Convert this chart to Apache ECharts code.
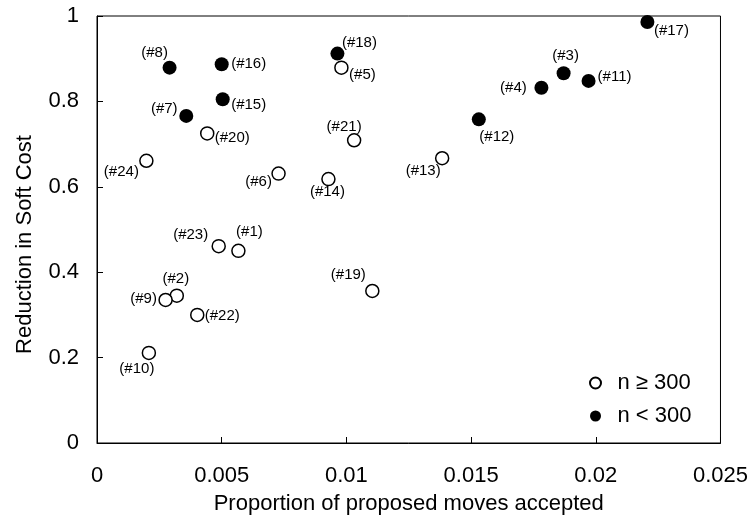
<!DOCTYPE html>
<html>
<head>
<meta charset="utf-8">
<script src="https://cdn.jsdelivr.net/npm/echarts@6/dist/echarts.min.js"></script>
<style>
  html, body { margin: 0; padding: 0; background: #fff; }
  #chart { width: 751px; height: 520px; }
</style>
</head>
<body>
<div id="chart"></div>
<script>
  "use strict";
  // n >= 300 (open circles)
  var openIds = ['#1', '#2', '#5', '#6', '#9', '#10', '#13', '#14', '#19', '#20', '#21', '#22', '#23', '#24'];
  var openX = [0.00567, 0.00320, 0.00980, 0.00728, 0.00275, 0.00208, 0.01384, 0.00928, 0.01104, 0.00442, 0.01031, 0.00402, 0.00488, 0.00198];
  var openY = [0.450, 0.345, 0.879, 0.631, 0.335, 0.211, 0.667, 0.618, 0.356, 0.725, 0.709, 0.300, 0.461, 0.661];
  // n < 300 (filled circles)
  var filledIds = ['#3', '#4', '#7', '#8', '#11', '#12', '#15', '#16', '#17', '#18'];
  var filledX = [0.01871, 0.01782, 0.00358, 0.00291, 0.01971, 0.01531, 0.00504, 0.00500, 0.02207, 0.00964];
  var filledY = [0.866, 0.832, 0.766, 0.879, 0.848, 0.758, 0.805, 0.887, 0.986, 0.912];

  var xTicks = { min: 0, max: 0.025, interval: 0.005 };
  var yTicks = { min: 0, max: 1, interval: 0.2 };

  // where each point's label sits relative to its marker (px)
  var labelOffset = {
    '#1': [11, -19], '#2': [-1, -17], '#3': [2, -17], '#4': [-28, 0], '#5': [21, 7],
    '#6': [-20, 8], '#7': [-22, -7], '#8': [-15, -15], '#9': [-22, -1], '#10': [-12, 16],
    '#11': [26, -4], '#12': [18, 18], '#13': [-19, 13], '#14': [-1, 13], '#15': [26, 6],
    '#16': [27, 0], '#17': [24, 9], '#18': [22, -11], '#19': [-24, -16], '#20': [25, 4],
    '#21': [-10, -13], '#22': [25, 1], '#23': [-28, -11], '#24': [-25, 11]
  };

  var font = '"Liberation Sans", Arial, sans-serif';

  function points(ids, xs, ys) {
    return ids.map(function (id, i) {
      return {
        name: id,
        value: [xs[i], ys[i]],
        label: { offset: labelOffset[id] }
      };
    });
  }

  var pointLabel = {
    show: true,
    position: 'inside',
    formatter: function (p) { return '(' + p.name + ')'; },
    fontFamily: font,
    fontSize: 15,
    color: '#000'
  };

  var option = {
    backgroundColor: '#fff',
    animation: false,
    textStyle: { fontFamily: font },
    grid: {
      left: 97, right: 30, top: 16, bottom: 76,
      show: true, borderColor: '#000', borderWidth: 1
    },
    legend: {
      orient: 'vertical',
      left: 584,
      top: 367,
      itemWidth: 30,
      itemHeight: 11,
      itemGap: 11,
      icon: 'circle',
      textStyle: { fontFamily: font, fontSize: 22, color: '#000', lineHeight: 22, padding: [0, 0, 0, 2] },
      data: ['n \u2265 300', 'n < 300']
    },
    xAxis: {
      type: 'value',
      min: xTicks.min, max: xTicks.max, interval: xTicks.interval,
      name: 'Proportion of proposed moves accepted',
      nameLocation: 'middle',
      nameGap: 50,
      nameTextStyle: { fontFamily: font, fontSize: 22, color: '#000' },
      axisLine: { lineStyle: { color: '#000', width: 1 } },
      axisTick: { inside: true, length: 6, lineStyle: { color: '#000' } },
      axisLabel: { margin: 22, fontFamily: font, fontSize: 22, color: '#000' },
      splitLine: { show: false }
    },
    yAxis: {
      type: 'value',
      min: yTicks.min, max: yTicks.max, interval: yTicks.interval,
      name: 'Reduction in Soft Cost',
      nameLocation: 'middle',
      nameGap: 61,
      nameTextStyle: { fontFamily: font, fontSize: 22, color: '#000', padding: [0, 30, 0, 0] },
      axisLine: { lineStyle: { color: '#000', width: 1 } },
      axisTick: { inside: true, length: 6, lineStyle: { color: '#000' } },
      axisLabel: { margin: 18, fontFamily: font, fontSize: 22, color: '#000' },
      splitLine: { show: false }
    },
    series: [
      {
        name: 'n \u2265 300',
        type: 'scatter',
        symbol: 'circle',
        symbolSize: 13,
        itemStyle: { color: '#fff', borderColor: '#000', borderWidth: 1.5, opacity: 1 },
        label: pointLabel,
        data: points(openIds, openX, openY)
      },
      {
        name: 'n < 300',
        type: 'scatter',
        symbol: 'circle',
        symbolSize: 14,
        itemStyle: { color: '#000', opacity: 1 },
        label: pointLabel,
        data: points(filledIds, filledX, filledY)
      }
    ]
  };

  var chart = echarts.init(document.getElementById('chart'));
  chart.setOption(option);
</script>
</body>
</html>
